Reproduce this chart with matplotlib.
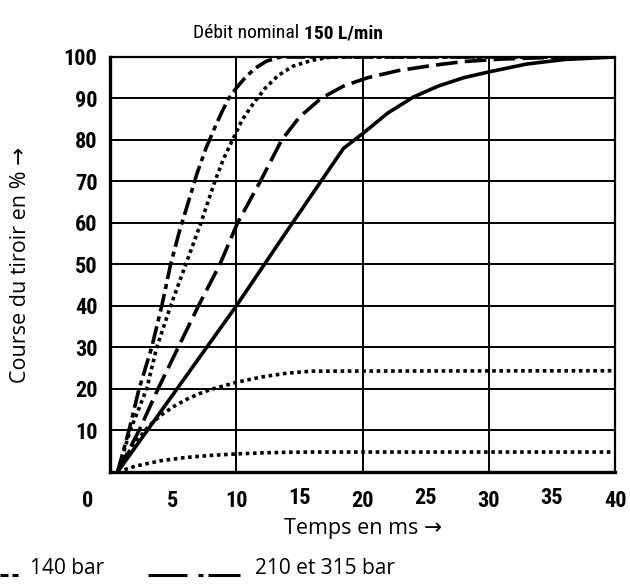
import matplotlib
matplotlib.use("Agg")
import matplotlib.pyplot as plt
import matplotlib.transforms as mtransforms
from matplotlib.lines import Line2D
from matplotlib import font_manager

# prefer a condensed sans for the numbers if one is around
available = {f.name for f in font_manager.fontManager.ttflist}
candidates = ['Roboto Condensed', 'Open Sans Condensed', 'PT Sans Narrow',
              'Fira Sans Condensed', 'Archivo Narrow', 'Liberation Sans Narrow', 'Liberation Sans']
narrow = [next(c for c in candidates if c in available), 'DejaVu Sans']
plain = ['Open Sans', 'DejaVu Sans']
plt.rcParams['font.family'] = plain

# Spool stroke curves, time in ms vs stroke in %
t_dashdot = [0.6, 1.5, 2.3, 3.3, 4.1, 4.8, 5.5, 6.2, 6.9, 7.6, 8.3, 8.9, 9.4, 10.0, 10.7, 11.5, 12.4, 13.5, 40.0]
s_dashdot = [0, 10, 20, 30, 40, 50, 58, 65, 72, 78, 83, 87, 90, 92.5, 95, 97.3, 99, 100, 100]

t_dotted = [0.6, 1.6, 2.9, 3.7, 4.8, 6.0, 7.2, 8.3, 9.0, 9.7, 10.5, 11.4, 12.3, 13.3, 14.5, 16.0, 17.5, 40.0]
s_dotted = [0, 10, 20, 30, 40, 50, 60, 70, 75.5, 80, 85, 89, 92.5, 95.5, 97.8, 99.2, 100, 100]

t_dashed = [0.6, 2.3, 3.8, 5.4, 7.0, 8.7, 10.1, 11.9, 13.6, 15.0, 16.7, 18.5, 20.4, 22.8, 25.6, 28.0, 31.0, 35.0, 40.0]
s_dashed = [0, 10, 20, 30, 40, 50, 60, 70, 80, 85.5, 90, 93, 95, 96.7, 98, 98.9, 99.5, 99.9, 100]

t_solid = [0.6, 10.0, 14.0, 18.5, 20.0, 22.0, 24.0, 26.0, 28.0, 30.0, 33.0, 36.0, 40.0]
s_solid = [0, 40, 58, 78, 81.5, 86.5, 90.3, 93, 95, 96.4, 98.3, 99.4, 100]

t_low1 = [0.6, 1.3, 2, 3, 4, 5, 6, 7, 8, 10, 12, 14, 16, 40]
s_low1 = [0, 4, 7, 10.8, 13.6, 15.7, 17.4, 18.8, 19.9, 21.6, 22.9, 23.8, 24.3, 24.4]

t_low2 = [0.6, 2, 4, 6, 8, 10, 12, 14, 16, 40]
s_low2 = [0, 1.4, 2.7, 3.5, 4.0, 4.35, 4.6, 4.75, 4.8, 4.8]

x_ticks = [0, 5, 10, 15, 20, 25, 30, 35, 40]
y_ticks = [10, 20, 30, 40, 50, 60, 70, 80, 90, 100]
x_grid = [10, 20, 30]

fig = plt.figure(figsize=(6.3, 5.84), dpi=100)
ax = fig.add_axes([0.1746, 0.1918, 0.8016, 0.7106])
ax.set_xlim(0, 40)
ax.set_ylim(0, 100)

# grid
for y in y_ticks[:-1]:
    ax.axhline(y, color='black', lw=1.4, zorder=1)
for x in x_grid:
    ax.axvline(x, color='black', lw=1.4, zorder=1)

lw = 2.6
dots = (0, (1, 1))
ax.plot(t_dashdot, s_dashdot, color='black', lw=lw, ls=(0, (5, 1.4, 1.4, 1.4)), zorder=3)
ax.plot(t_dotted, s_dotted, color='black', lw=lw, ls=dots, zorder=3)
ax.plot(t_dashed, s_dashed, color='black', lw=lw, ls=(0, (6, 2)), zorder=3)
ax.plot(t_solid, s_solid, color='black', lw=lw, zorder=3)
ax.plot(t_low1, s_low1, color='black', lw=lw, ls=dots, zorder=3)
ax.plot(t_low2, s_low2, color='black', lw=lw, ls=dots, zorder=3)

for side in ['left', 'bottom']:
    ax.spines[side].set_linewidth(2.4)
for side in ['top', 'right']:
    ax.spines[side].set_linewidth(1.6)

ax.set_yticks(y_ticks)
ax.set_yticklabels([str(v) for v in y_ticks], fontweight='bold', fontsize=16, family=narrow)
ax.set_xticks(x_ticks)
ax.set_xticklabels([str(v) for v in x_ticks], fontweight='bold', fontsize=16, family=narrow)
ax.tick_params(axis='both', length=0)
ax.tick_params(axis='y', pad=9)
ax.tick_params(axis='x', pad=13)

# origin label sits left of the corner; odd labels ride a bit higher
labels = ax.get_xticklabels()
labels[0].set_transform(labels[0].get_transform() +
                        mtransforms.ScaledTranslation(-22 / 100, 0, fig.dpi_scale_trans))
for i in (3, 5, 7):
    labels[i].set_transform(labels[i].get_transform() +
                            mtransforms.ScaledTranslation(0, 3 / 100, fig.dpi_scale_trans))

ax.set_xlabel('Temps en ms \u2192', fontsize=15.5, labelpad=4)
ax.set_ylabel('Course du tiroir en % \u2192', fontsize=15.5)
ax.yaxis.set_label_coords(-0.156, 0.5)

t1 = fig.text(193 / 630, 1 - 33 / 584, 'Débit nominal ', fontsize=14, va='center', ha='left',
              family=narrow)
ax.annotate('150 L/min', xy=(1, 0.5), xycoords=t1, va='center', ha='left',
            fontsize=14, fontweight='bold', family=narrow)

# legend row at the bottom
ly = 1 - 575 / 584
px = lambda v: v / 630
for a, b in [(0, 8), (12, 18)]:
    fig.add_artist(Line2D([px(a), px(b)], [ly, ly], color='black', lw=2.2,
                          solid_capstyle='butt', transform=fig.transFigure))
fig.text(px(30), 1 - 569 / 584, '140 bar', fontsize=15, va='center', ha='left')
for a, b in [(148, 187), (198, 203), (208, 240)]:
    fig.add_artist(Line2D([px(a), px(b)], [ly, ly], color='black', lw=2.2,
                          solid_capstyle='butt', transform=fig.transFigure))
fig.text(px(255), 1 - 569 / 584, '210 et 315 bar', fontsize=15, va='center', ha='left')

fig.savefig('out.png', dpi=100)
